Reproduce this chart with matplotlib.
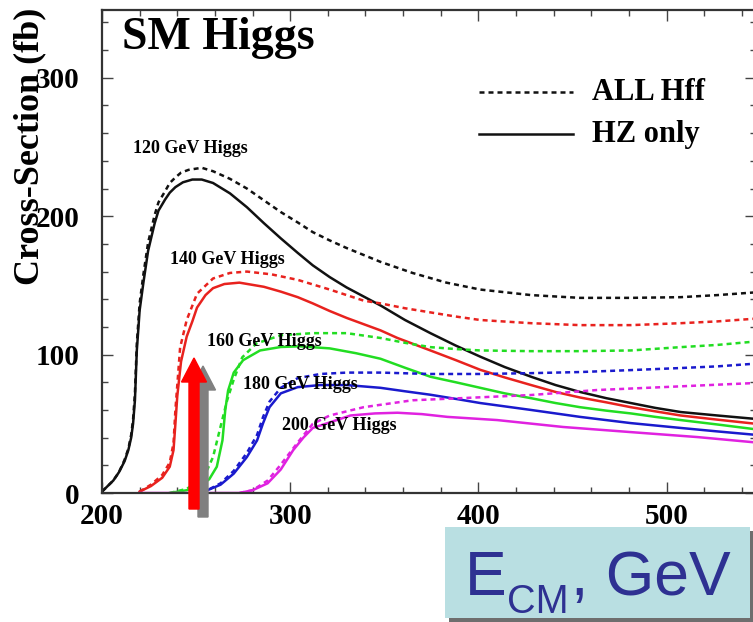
import matplotlib
matplotlib.use("Agg")
import matplotlib.pyplot as plt
from matplotlib.patches import Rectangle, FancyArrow
from matplotlib.ticker import MultipleLocator

# --- data (E_CM in GeV, cross-section in fb) ---
x120_hz = [200, 203, 206, 209, 212, 214, 215.5, 216.5, 217.5, 218.5, 220, 222, 224.5, 228, 230,
           233.5, 236, 239, 243, 248, 253, 259, 268, 277, 286, 295, 304, 312, 321, 330, 339, 348,
           361, 374.5, 388, 401, 414, 428, 441, 454, 468, 481, 494, 507.5, 527, 547.5]
y120_hz = [1, 5, 9, 15, 23, 31, 40, 50, 67, 103, 132, 152, 175, 195, 204,
           212, 217, 221, 224.5, 226.5, 226.5, 224, 216.5, 206.5, 195, 184, 173.5, 164.5, 156, 148.5,
           142, 135.5, 125, 115.5, 106.5, 98.5, 91, 84, 78, 73, 68.5, 65, 61.5, 58.5, 56, 53.5]
x120_all = [200, 203, 206, 209, 212, 214, 215.5, 216.5, 217.5, 218.5, 220, 222, 224.5, 228, 230,
            233.5, 236, 239, 242, 246, 253, 259, 268, 277, 286, 295, 304, 312, 321, 330, 339, 348,
            365, 383, 401, 428, 454, 481, 507.5, 527, 547.5]
y120_all = [1, 5, 9, 15, 24, 32, 42, 53, 72, 108, 137, 158, 181, 201, 210,
            218, 224, 228, 231.5, 233.5, 235, 232.5, 227, 220, 211.5, 203, 195.5, 188.5, 182.5,
            177, 172, 167, 159, 152, 147, 143, 141, 141, 141.5, 143, 145]

x140_hz = [220, 226, 232, 236, 238, 239, 240, 242, 245, 248, 250.5, 255, 259, 265, 273, 286, 295,
           304, 312, 321, 330, 339, 348, 357, 374.5, 388, 401, 414, 428, 441, 454, 468, 481, 494,
           507.5, 527, 547.5]
y140_hz = [1, 5, 11, 19, 31, 50, 70, 95, 113, 124, 134, 143, 148, 151, 152, 149, 145.5,
           141.5, 137, 131.5, 126.5, 122, 117.5, 112, 103, 96, 89, 83.5, 78, 73, 69, 65.5, 62, 59,
           56, 53, 50]
x140_all = [220, 226, 232, 236, 238, 239, 240.4, 241.5, 245, 250.5, 259, 268, 277, 290, 304, 321,
            339, 348, 361, 374.5, 388, 401, 428, 454, 481, 507.5, 527, 547.5]
y140_all = [1, 6, 13, 22, 36, 60, 85, 105, 125, 144, 155, 159, 160, 158, 154, 147,
            139, 137, 133.5, 130.5, 127.5, 125, 122.7, 121.3, 121.3, 122.7, 124, 126]

x160_hz = [236, 245, 252, 257, 261, 264, 265.5, 267, 270, 275, 284, 295, 305, 321, 335, 348, 361,
           374.5, 388, 401, 414, 428, 441, 454, 468, 481, 494, 507.5, 527, 547.5]
y160_hz = [0, 2, 5, 10, 19, 38, 60, 74, 87, 96, 103, 105.5, 106, 104.5, 101, 97, 90.5,
           84, 80, 76, 72, 68.5, 65, 62, 59.5, 57.5, 55, 52.7, 49.5, 46]
x160_all = [236, 245, 252, 256, 259, 263, 266.5, 270, 274.5, 282, 295, 312, 330, 348, 361, 374.5,
            388, 401, 428, 454, 481, 507.5, 527, 547.5]
y160_all = [0, 3, 9, 17, 26, 48, 67, 82, 98, 108, 114, 115.5, 115.5, 112, 108.5, 105.4,
            104, 103, 102.5, 102.5, 103, 105.4, 107, 109.5]

x180_hz = [248, 256, 263, 270, 277, 282.4, 285.6, 289, 295, 304, 316, 330, 348, 361, 374.5, 388,
           401, 428, 454, 481, 507.5, 527, 547.5]
y180_hz = [0, 2, 6, 14, 26, 38, 50.5, 62, 72, 76.5, 78, 78, 76, 73.5, 71, 68,
           65, 60, 55, 50.5, 47, 44.5, 42]
x180_all = [248, 256, 263, 270, 277, 282.4, 285.6, 289, 295, 304, 316, 330, 348, 374.5, 401, 428,
            454, 481, 507.5, 527, 547.5]
y180_all = [0, 2, 7, 16, 29, 42, 55, 66, 76, 83, 86, 87, 87, 86, 86, 86.6,
            87.4, 88.8, 90.3, 91.5, 93.5]

x200_hz = [220, 273, 280, 288, 295, 301.6, 307, 312, 321, 332, 345, 357, 370, 383.5, 410, 445,
           481, 516.5, 547.5]
y200_hz = [0, 0, 2, 7, 17, 31, 40, 47, 51, 56, 57.5, 58, 57, 55, 52.7, 47.7,
           44, 40.4, 36.5]
x200_all = [273, 280, 288, 294.7, 303.7, 312, 321, 339, 365, 392, 428, 463, 498, 547.5]
y200_all = [0, 2, 9, 20, 36, 50, 56, 62, 67, 68.6, 70.8, 74.4, 76.5, 79.5]

masses = ["120", "140", "160", "180", "200"]
colors = ["#111111", "#e8221e", "#22dd22", "#1a1acd", "#e022e0"]
hz_curves = [(x120_hz, y120_hz), (x140_hz, y140_hz), (x160_hz, y160_hz),
             (x180_hz, y180_hz), (x200_hz, y200_hz)]
all_curves = [(x120_all, y120_all), (x140_all, y140_all), (x160_all, y160_all),
              (x180_all, y180_all), (x200_all, y200_all)]
# where each "xxx GeV Higgs" tag sits (data coords, left edge)
label_pos = [(216.5, 249), (236, 168.5), (255.8, 109.3), (274.9, 78.1), (295.6, 48.5)]

SERIF = "Liberation Serif"
W, H = 753, 622

fig = plt.figure(figsize=(W / 100, H / 100), dpi=100)
ax = fig.add_axes([102 / W, 129 / H, 654 / W, 483 / H])

dots = (0, (2.0, 1.6))
for (xa, ya), (xh, yh), c in zip(all_curves, hz_curves, colors):
    ax.plot(xa, ya, color=c, lw=1.8, linestyle=dots, dash_joinstyle="round")
    ax.plot(xh, yh, color=c, lw=1.8, solid_joinstyle="round")

for m, (lx, ly) in zip(masses, label_pos):
    ax.text(lx, ly, f"{m} GeV Higgs", fontsize=13, fontweight="bold", family=SERIF,
            ha="left", va="center")

ax.set_xlim(200, 547.5)
ax.set_ylim(0, 349)
ax.set_xticks([200, 300, 400, 500])
ax.set_yticks([0, 100, 200, 300])
ax.xaxis.set_minor_locator(MultipleLocator(20))
ax.yaxis.set_minor_locator(MultipleLocator(20))
ax.tick_params(which="both", direction="in", top=True, right=True, width=1, color="#444444")
ax.tick_params(which="major", length=8)
ax.tick_params(which="minor", length=4.5)
ax.tick_params(axis="y", which="major", pad=16)
ax.tick_params(axis="x", which="major", pad=7)
for lab in ax.get_xticklabels() + ax.get_yticklabels():
    lab.set_family(SERIF)
    lab.set_fontweight("bold")
    lab.set_fontsize(21)
for sp in ax.spines.values():
    sp.set_linewidth(1.6)
    sp.set_color("#333333")

# title inside the frame
ax.text(0.03, 0.985, "SM Higgs", transform=ax.transAxes, fontsize=33, fontweight="bold",
        family=SERIF, ha="left", va="top")

# hand-made legend
ax.plot([0.576, 0.72], [0.83, 0.83], transform=ax.transAxes, color="#111111", lw=1.8, linestyle=dots)
ax.plot([0.576, 0.72], [0.743, 0.743], transform=ax.transAxes, color="#111111", lw=1.8)
ax.text(0.75, 0.83, "ALL Hff", transform=ax.transAxes, fontsize=22, fontweight="bold",
        family=SERIF, ha="left", va="center")
ax.text(0.75, 0.743, "HZ only", transform=ax.transAxes, fontsize=22, fontweight="bold",
        family=SERIF, ha="left", va="center")

fig.text(30 / W, 1 - 146 / H, "Cross-Section (fb)", rotation=90, fontsize=26,
         fontweight="bold", family=SERIF, ha="center", va="center")


def fx(px):
    return px / W


def fy(py):
    return 1 - py / H


# arrows (grey one sits behind the red one)
fig.patches.append(FancyArrow(fx(203), fy(517), 0, fy(366) - fy(517), width=10 / W,
                              head_width=25 / W, head_length=24 / H, length_includes_head=True,
                              color="#808080", transform=fig.transFigure, figure=fig, zorder=5))
fig.patches.append(FancyArrow(fx(194), fy(509), 0, fy(358) - fy(509), width=10 / W,
                              head_width=25 / W, head_length=24 / H, length_includes_head=True,
                              color="#ff0000", transform=fig.transFigure, figure=fig, zorder=6))

# E_CM box with shadow
fig.patches.append(Rectangle((fx(449), fy(622)), fx(754) - fx(449), fy(531) - fy(622),
                             facecolor="#6e6e6e", edgecolor="none", transform=fig.transFigure,
                             figure=fig, zorder=5))
fig.patches.append(Rectangle((fx(445), fy(618)), fx(750) - fx(445), fy(527) - fy(618),
                             facecolor="#b9dfe2", edgecolor="none", transform=fig.transFigure,
                             figure=fig, zorder=6))
blue = "#2e3192"
fig.text(fx(465), fy(595), "E", fontsize=45, color=blue, family="Liberation Sans",
         ha="left", va="baseline", zorder=7)
fig.text(fx(507), fy(613), "CM", fontsize=28.5, color=blue, family="Liberation Sans",
         ha="left", va="baseline", zorder=7)
fig.text(fx(571), fy(595), ", GeV", fontsize=45, color=blue, family="Liberation Sans",
         ha="left", va="baseline", zorder=7)

fig.savefig("out.png", dpi=100)
